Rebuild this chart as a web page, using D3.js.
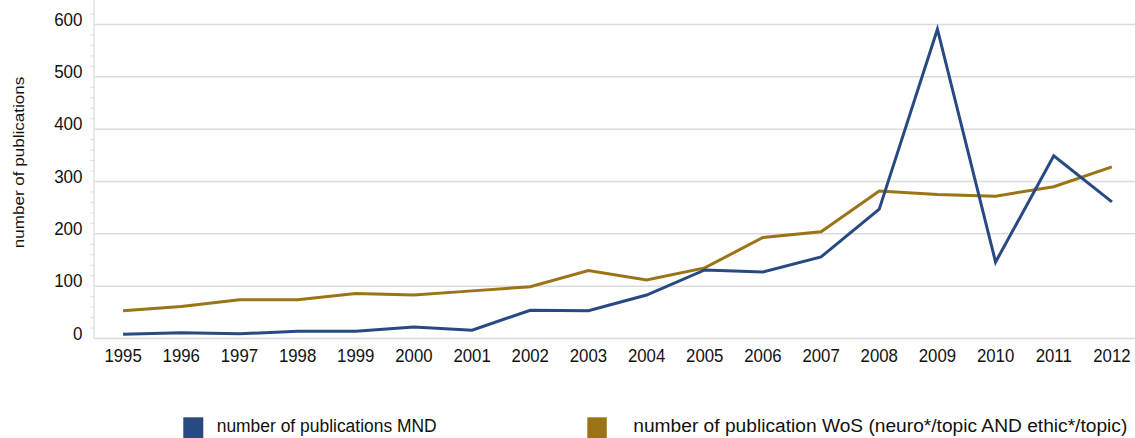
<!DOCTYPE html>
<html><head><meta charset="utf-8">
<script src="https://cdn.jsdelivr.net/npm/d3@7"></script>
<style>body{margin:0;background:#fff}svg{display:block;font-family:"Liberation Sans",Arial,sans-serif}</style>
</head><body>
<svg id="c" width="1135" height="438"></svg>
<script>
const years = ["1995","1996","1997","1998","1999","2000","2001","2002","2003","2004","2005","2006","2007","2008","2009","2010","2011","2012"];
const mnd = [8,11,9,14,14,22,16,54,53,83,131,127,156,247,591,146,349,261];
const wos = [53,61,74,74,86,83,91,99,130,112,135,193,204,282,275,272,290,328];
const yTicks = [0,100,200,300,400,500,600];
const seriesNames = ["number of publications MND","number of publication WoS (neuro*/topic AND ethic*/topic)"];
const colors = ["#284a82","#9a7416"];

const svg = d3.select("#c");
const left = 94, right = 1141, y0 = 338.5, y600 = 24.5;
const x = d3.scaleBand().domain(years).range([left, right]);
const y = d3.scaleLinear().domain([0,600]).range([y0, y600]);

// grid
svg.append("g").selectAll("line").data(yTicks).join("line")
  .attr("x1", left).attr("x2", 1135)
  .attr("y1", d=>y(d)).attr("y2", d=>y(d))
  .attr("stroke", "#dcdcdc").attr("stroke-width", 1.5);
// minor ticks
const minor = d3.range(0, 640, 20).filter(v => v % 100 !== 0);
svg.append("g").selectAll("line").data(minor).join("line")
  .attr("x1", left-4).attr("x2", left)
  .attr("y1", d=>y(d)).attr("y2", d=>y(d))
  .attr("stroke", "#e0e0e0").attr("stroke-width", 1);
// left axis line
svg.append("line").attr("x1", left).attr("x2", left).attr("y1", 0).attr("y2", y0)
  .attr("stroke", "#e2e2e2").attr("stroke-width", 1.5);

// y labels
svg.append("g").selectAll("text").data(yTicks).join("text")
  .attr("transform", d=>`translate(82.5,${y(d)+1}) scale(1,1.05)`)
  .attr("text-anchor", "end").attr("font-size", 17).attr("fill", "#111")
  .text(d=>d);
// x labels
svg.append("g").selectAll("text").data(years).join("text")
  .attr("transform", d=>`translate(${x(d)+x.bandwidth()/2},361.7) scale(1,1.1)`)
  .attr("text-anchor", "middle").attr("font-size", 16.8).attr("fill", "#111")
  .text(d=>d);
// y title
svg.append("text").attr("transform", "translate(23.5,162.5) rotate(-90) scale(1.1,1)")
  .attr("text-anchor", "middle").attr("font-size", 15.5).attr("fill", "#111")
  .text("number of publications");

const line = d3.line().x((d,i)=>x(years[i])+x.bandwidth()/2).y(d=>y(d));
[wos, mnd].forEach((s, k) => {
  const ci = k === 0 ? 1 : 0;
  svg.append("path").datum(s).attr("d", line).attr("fill", "none")
    .attr("stroke", colors[ci]).attr("stroke-width", 3).attr("stroke-linejoin", "miter");
});

// legend
const legX = [183.3, 587.3];
const legW = [20, 19.5];
const legTextX = [216.7, 633.3];
const legLen = [220, 494];
seriesNames.forEach((n, i) => {
  svg.append("rect").attr("x", legX[i]).attr("y", 417.3).attr("width", legW[i]).attr("height", 21).attr("fill", colors[i]);
  svg.append("text").attr("x", legTextX[i]).attr("y", 432.3)
    .attr("font-size", 18).attr("fill", "#111")
    .attr("textLength", legLen[i]).attr("lengthAdjust", "spacingAndGlyphs")
    .text(n);
});
</script>
</body></html>
